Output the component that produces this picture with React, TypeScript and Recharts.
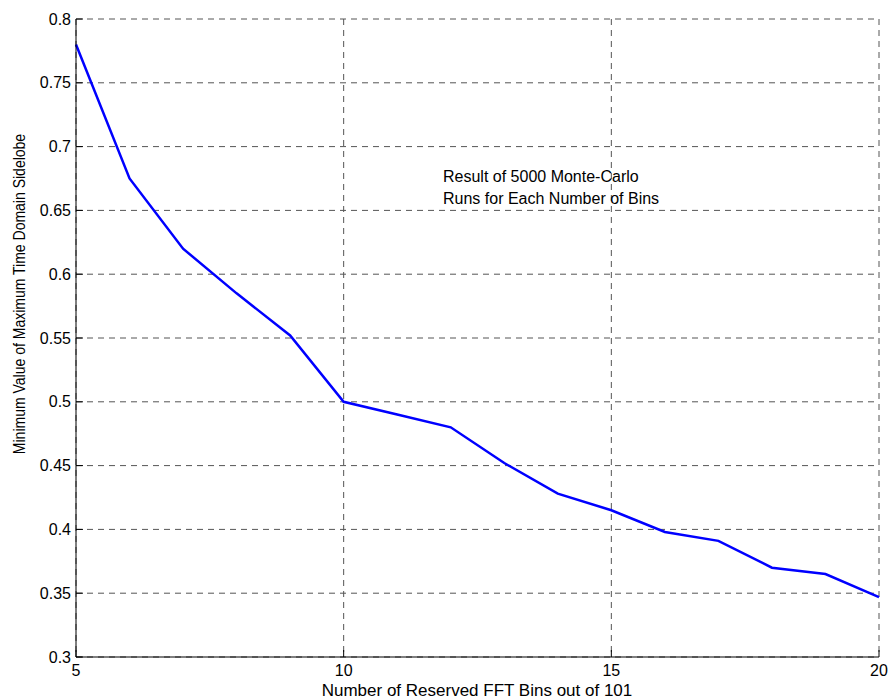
import { LineChart, Line, XAxis, YAxis, CartesianGrid } from "recharts";

const BINS = [5, 6, 7, 8, 9, 10, 11, 12, 13, 14, 15, 16, 17, 18, 19, 20];
const MIN_SIDELOBE = [
  0.78, 0.675, 0.62, 0.585, 0.552, 0.5, 0.49, 0.48, 0.452, 0.428, 0.415, 0.398, 0.391, 0.37, 0.365, 0.347,
];
const X_TICKS = [5, 10, 15, 20];
const Y_TICKS = [0.3, 0.35, 0.4, 0.45, 0.5, 0.55, 0.6, 0.65, 0.7, 0.75, 0.8];
const X_TITLE = "Number of Reserved FFT Bins out of 101";
const Y_TITLE = "Minimum Value of Maximum Time Domain Sidelobe";
const NOTE = ["Result of 5000 Monte-Carlo", "Runs for Each Number of Bins"];

const data = BINS.map((b, i) => ({ bins: b, value: MIN_SIDELOBE[i] }));

const font = '"Liberation Sans", Arial, Helvetica, sans-serif';
const tickStyle = { fill: "#000", fontSize: 16, fontFamily: font };

// centred text anchored on a point, optionally rotated
function Caption({ x, y, size, rotate, children }: any) {
  return (
    <span
      style={{
        position: "absolute",
        left: x,
        top: y,
        fontSize: size,
        whiteSpace: "nowrap",
        lineHeight: 1,
        color: "#000",
        transform: `translate(-50%, -50%)${rotate ? " rotate(-90deg) scaleX(0.875)" : ""}`,
      }}
    >
      {children}
    </span>
  );
}

export default function App() {
  return (
    <div style={{ position: "absolute", left: 0, top: 0, width: 889, height: 698, fontFamily: font, background: "#fff" }}>
      <LineChart width={889} height={698} data={data} margin={{ top: 19, right: 10, bottom: 0, left: 0 }}>
        <CartesianGrid stroke="#555" strokeDasharray="6 5" />
        <XAxis
          dataKey="bins"
          type="number"
          domain={[5, 20]}
          ticks={X_TICKS}
          height={41}
          tickSize={-7}
          tickMargin={13}
          stroke="#000"
          tick={{ ...tickStyle, dy: 2 }}
          interval={0}
        />
        <XAxis
          xAxisId="top"
          orientation="top"
          type="number"
          domain={[5, 20]}
          ticks={X_TICKS}
          height={0}
          tickSize={-7}
          tickFormatter={() => ""}
          stroke="#000"
        />
        <YAxis
          type="number"
          domain={[0.3, 0.8]}
          ticks={Y_TICKS}
          width={76}
          tickSize={-7}
          tickMargin={12}
          stroke="#000"
          tick={tickStyle}
          interval={0}
        />
        <YAxis
          yAxisId="right"
          orientation="right"
          type="number"
          domain={[0.3, 0.8]}
          ticks={Y_TICKS}
          width={0}
          tickSize={-7}
          tickFormatter={() => ""}
          stroke="#000"
        />
        <Line
          type="linear"
          dataKey="value"
          stroke="#0000ff"
          strokeWidth={2.5}
          dot={false}
          isAnimationActive={false}
        />
      </LineChart>
      <Caption x={477} y={690} size={17}>
        {X_TITLE}
      </Caption>
      <Caption x={20} y={294} size={16} rotate>
        {Y_TITLE}
      </Caption>
      <div
        style={{
          position: "absolute",
          left: 443,
          top: 166,
          fontSize: 16,
          lineHeight: "22px",
          color: "#000",
        }}
      >
        {NOTE.map((t) => (
          <div key={t}>{t}</div>
        ))}
      </div>
    </div>
  );
}
